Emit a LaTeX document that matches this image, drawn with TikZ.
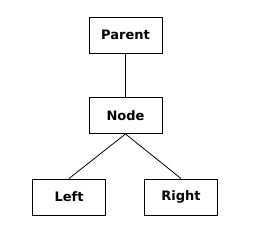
\documentclass[tikz,border=0pt]{standalone}
\usepackage{fontspec}
\setmainfont{DejaVu Sans}
\begin{document}
\begin{tikzpicture}[x=1pt,y=-1pt,
  box/.style={draw=black,line width=0.9pt,minimum width=73pt,minimum height=36pt,inner sep=0pt,
    font=\fontsize{13}{15}\selectfont\bfseries},
  link/.style={draw=black,line width=0.8pt}]
\useasboundingbox[fill=white] (0,0) rectangle (258,240);
\node[box] (parent) at (125.5,35) {Parent};
\node[box] (node) at (125.5,115.5) {Node};
\node[box] (left) at (69,197) {Left};
\node[box] (right) at (181,197) {Right};
\draw[link] (parent.south) -- (node.north);
\draw[link] (node.south) -- (left.north);
\draw[link] (node.south) -- (right.north);
\end{tikzpicture}
\end{document}
